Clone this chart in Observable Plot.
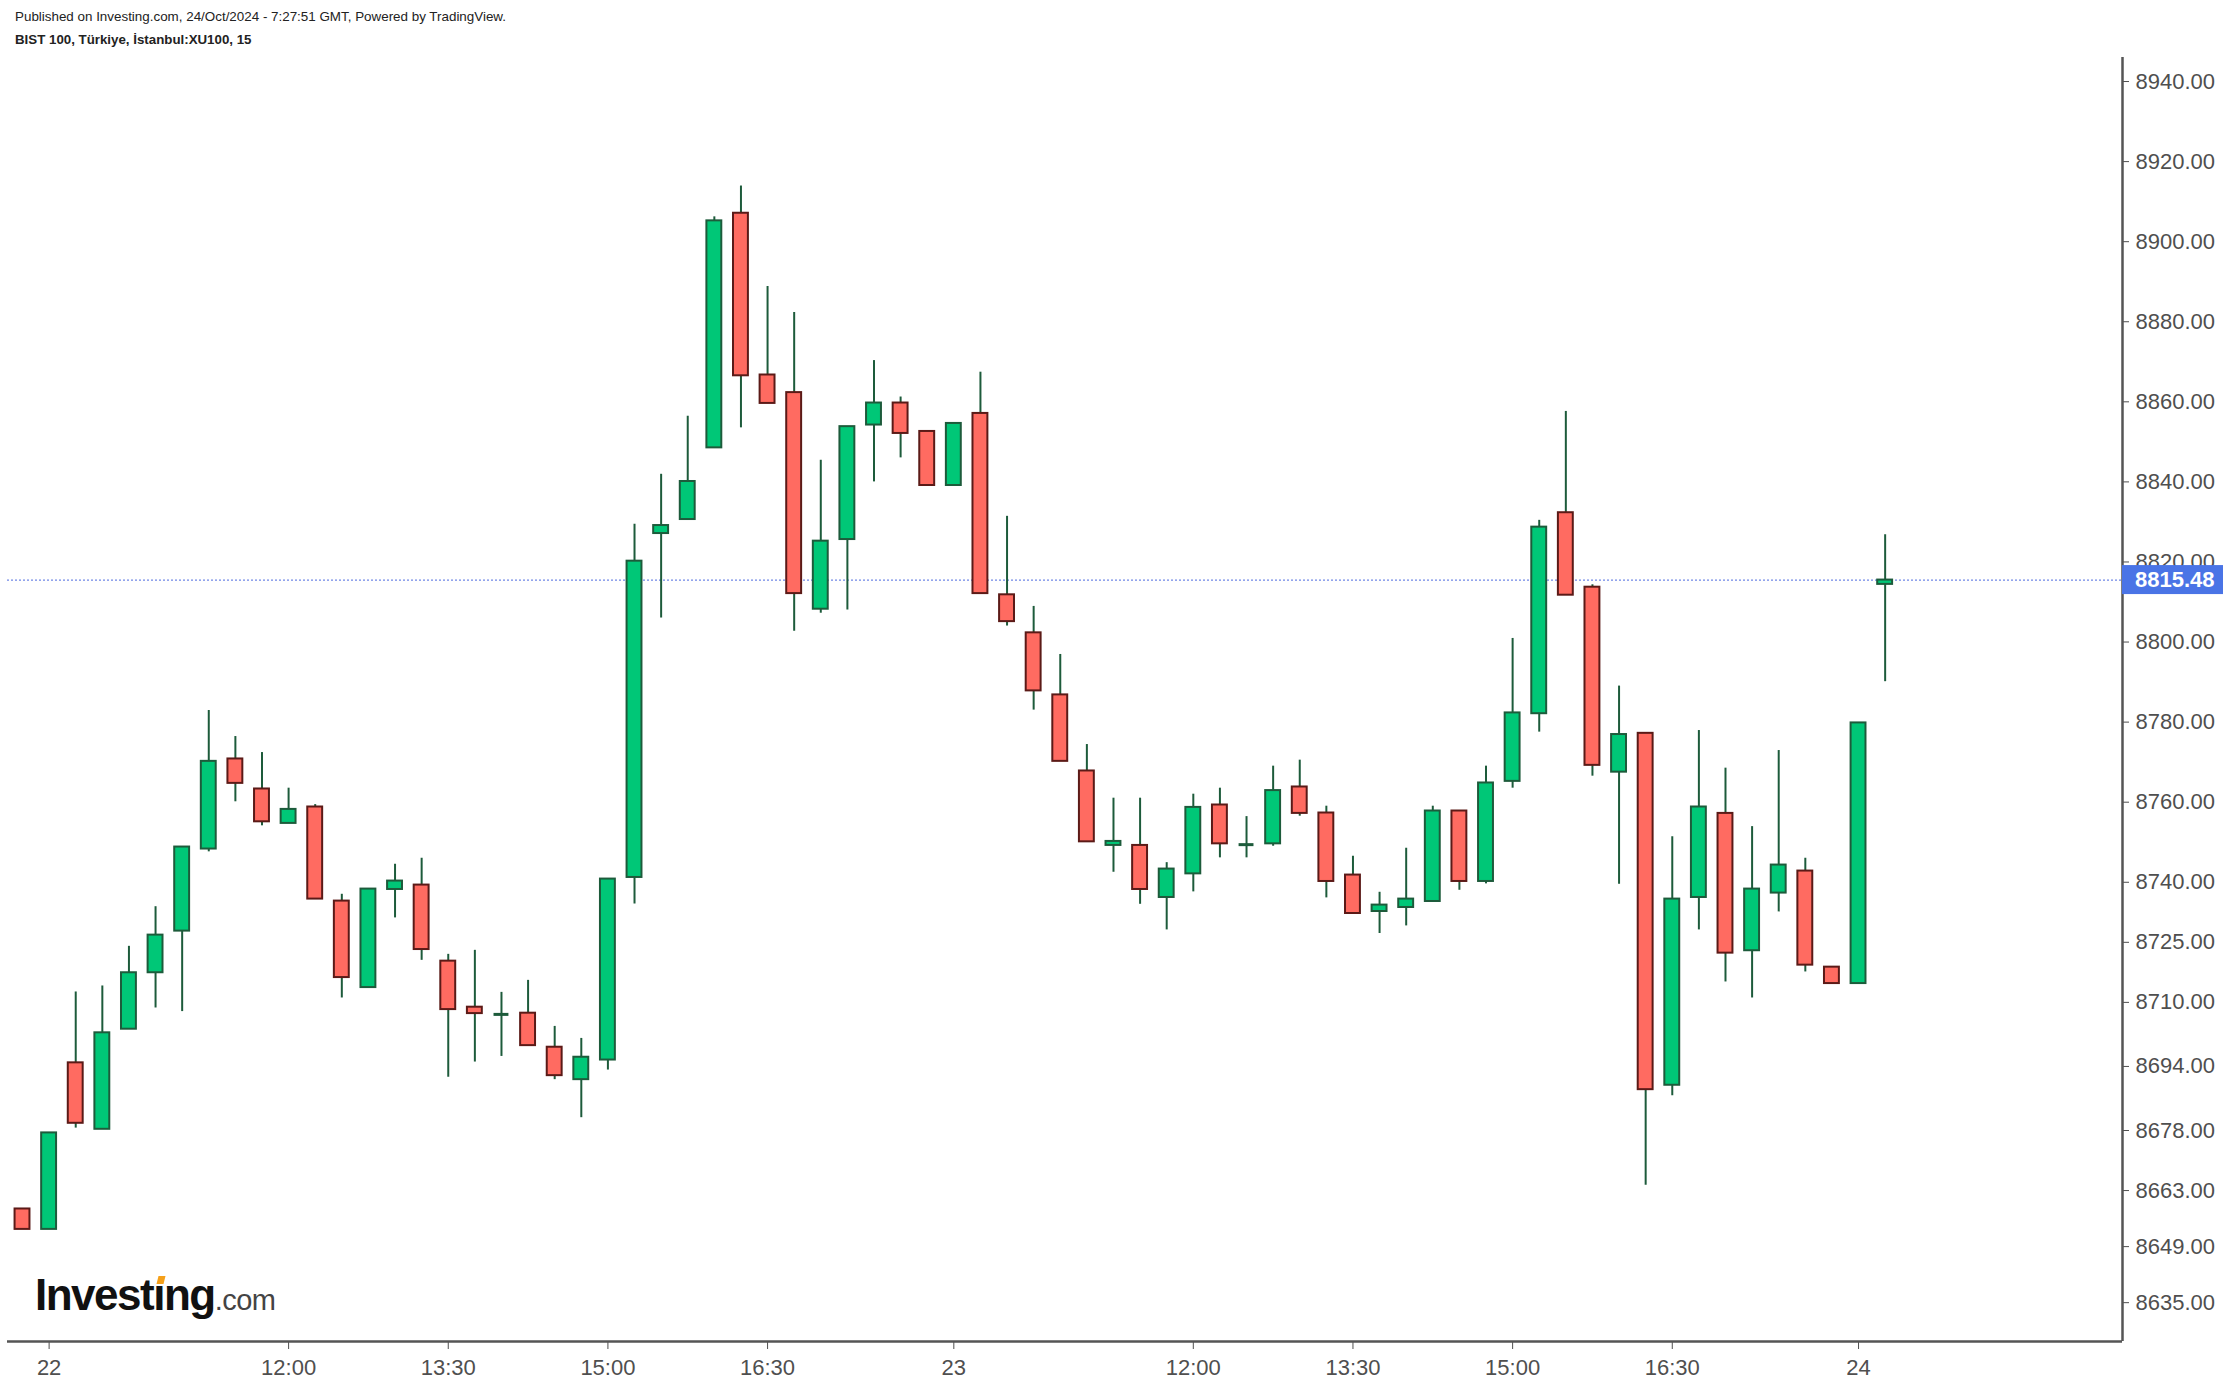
<!DOCTYPE html>
<html>
<head>
<meta charset="utf-8">
<script src="https://cdn.jsdelivr.net/npm/d3@7"></script>
<script src="https://cdn.jsdelivr.net/npm/@observablehq/plot@0.6"></script>
<style>
  html, body { margin: 0; padding: 0; background: #fff; }
  #wrap { position: relative; width: 2230px; height: 1386px; overflow: hidden; font-family: "Liberation Sans", Arial, sans-serif; }
  #pub { position: absolute; left: 15px; top: 9px; font-size: 13.4px; color: #222; white-space: nowrap; }
  #sym { position: absolute; left: 15px; top: 32px; font-size: 13.3px; font-weight: bold; color: #222; white-space: nowrap; }
  #chart { position: absolute; left: 0; top: 0; }
</style>
</head>
<body>
<div id="wrap">
  <div id="chart"></div>
  <div id="pub">Published on Investing.com, 24/Oct/2024 - 7:27:51 GMT, Powered by TradingView.</div>
  <div id="sym">BIST 100, Türkiye, İstanbul:XU100, 15</div>
</div>
<script>
// ---- data (15-minute candles, BIST 100) ----
const opens  = [8658.4,8653.3,8694.9,8678.3,8703.3,8717.4,8727.8,8748.3,8770.8,8763.3,8754.7,8758.8,8735.3,8713.7,8738.2,8739.3,8720.3,8708.8,8707.0,8707.3,8698.8,8690.7,8695.6,8741.2,8827.1,8830.6,8848.5,8907.1,8866.7,8862.3,8808.2,8825.6,8854.2,8859.7,8852.6,8839.1,8857.1,8811.8,8802.3,8786.8,8767.8,8749.2,8749.2,8736.2,8742.1,8759.3,8749.4,8749.6,8763.8,8757.3,8741.8,8732.7,8733.7,8735.2,8757.8,8740.2,8765.2,8782.1,8832.3,8813.7,8767.5,8777.2,8689.3,8736.2,8757.2,8722.9,8737.3,8742.8,8718.8,8714.7,8814.4];
const highs  = [8658.4,8677.4,8712.6,8714.1,8724.0,8733.9,8748.8,8782.9,8776.4,8772.4,8763.5,8759.4,8737.0,8738.3,8744.5,8746.0,8722.0,8723.0,8712.5,8715.5,8704.0,8701.0,8740.8,8829.4,8841.9,8856.4,8906.2,8913.9,8888.8,8882.3,8845.4,8853.8,8870.3,8861.2,8852.6,8854.6,8867.4,8831.4,8808.9,8796.9,8774.4,8761.0,8761.0,8744.9,8762.0,8763.5,8756.4,8769.0,8770.5,8759.0,8746.5,8737.5,8748.5,8759.0,8757.8,8769.0,8800.9,8830.4,8857.6,8814.3,8789.0,8777.2,8751.4,8777.9,8768.5,8753.9,8772.9,8746.0,8718.8,8779.8,8826.8];
const lows   = [8653.3,8653.3,8678.6,8678.3,8703.3,8708.6,8707.7,8747.6,8760.1,8754.1,8754.7,8735.8,8711.1,8713.7,8731.1,8720.5,8691.3,8695.1,8696.5,8699.2,8690.7,8681.2,8693.1,8734.6,8806.0,8830.6,8848.5,8853.5,8859.6,8802.7,8807.2,8808.0,8840.0,8846.0,8839.1,8839.1,8812.1,8804.0,8783.0,8770.2,8750.1,8742.5,8734.5,8728.1,8737.6,8746.1,8746.1,8749.0,8756.5,8736.1,8732.2,8727.2,8729.1,8735.2,8738.0,8739.6,8763.5,8777.5,8811.7,8766.5,8739.5,8664.3,8686.7,8728.1,8715.1,8711.1,8732.6,8717.6,8714.7,8714.7,8790.1];
const closes = [8653.3,8677.4,8679.8,8702.4,8717.4,8726.8,8748.8,8770.2,8764.7,8755.1,8758.2,8735.8,8716.2,8738.3,8740.3,8723.2,8708.2,8707.2,8707.0,8699.2,8691.7,8696.3,8740.8,8820.2,8829.1,8840.1,8905.2,8866.5,8859.6,8812.1,8825.2,8853.8,8859.7,8852.1,8839.1,8854.6,8812.1,8805.1,8787.8,8770.2,8750.1,8750.2,8738.2,8743.3,8758.7,8749.6,8749.4,8762.9,8757.2,8740.2,8732.2,8734.3,8735.8,8757.8,8740.2,8764.8,8782.3,8828.7,8811.7,8769.2,8776.9,8688.2,8735.8,8758.8,8722.3,8738.3,8744.3,8719.3,8714.7,8779.8,8815.48];

const yTickValues = [8940,8920,8900,8880,8860,8840,8820,8800,8780,8760,8740,8725,8710,8694,8678,8663,8649,8635];
const xTickIndex  = [1,10,16,22,28,35,44,50,56,62,69];
const xTickLabels = ["22","12:00","13:30","15:00","16:30","23","12:00","13:30","15:00","16:30","24"];
const lastPrice = 8815.48;

// ---- styles ----
const upFill = "#00c777", upStroke = "#1d5b3b";
const downFill = "#ff6b61", downStroke = "#5b1a17";
const wickColor = "#1d5b3b";
const axisColor = "#555555";

const candles = opens.map((o, i) => ({i, open: o, high: highs[i], low: lows[i], close: closes[i]}));
const ups = candles.filter(d => d.close > d.open);
const downs = candles.filter(d => d.close < d.open);
const dojis = candles.filter(d => d.close === d.open);

const xDomain = [-0.564, 78.92];
const yDomain = [8625.3, 8946.0];
const half = 0.28;

const chart = Plot.plot({
  width: 2230,
  height: 1386,
  marginLeft: 7,
  marginRight: 108,
  marginTop: 57,
  marginBottom: 45,
  style: {fontFamily: "'Liberation Sans', Arial, sans-serif", fontSize: "22px", color: "#4f4f4f", background: "#fff"},
  x: {type: "linear", domain: xDomain},
  y: {type: "linear", domain: yDomain},
  marks: [
    Plot.ruleY([lastPrice], {stroke: "#7088e6", strokeWidth: 1.2, strokeDasharray: "2,2"}),
    Plot.ruleX(candles, {x: "i", y1: "low", y2: "high", stroke: wickColor, strokeWidth: 2}),
    Plot.rect(ups, {x1: d => d.i - half, x2: d => d.i + half, y1: "open", y2: "close", fill: upFill, stroke: upStroke, strokeWidth: 2}),
    Plot.rect(downs, {x1: d => d.i - half, x2: d => d.i + half, y1: "close", y2: "open", fill: downFill, stroke: downStroke, strokeWidth: 2}),
    Plot.ruleY(dojis, {y: "close", x1: d => d.i - half, x2: d => d.i + half, stroke: upStroke, strokeWidth: 3}),
    Plot.axisY({anchor: "right", ticks: yTickValues, tickFormat: d => d.toFixed(2), tickSize: 6, tickPadding: 7, label: null}),
    Plot.axisX({ticks: xTickIndex, tickFormat: d => xTickLabels[xTickIndex.indexOf(d)], tickSize: 8, tickPadding: 10, label: null}),
    Plot.ruleY([yDomain[0]], {stroke: axisColor, strokeWidth: 2.5}),
    Plot.ruleX([xDomain[1]], {stroke: axisColor, strokeWidth: 2.5})
  ]
});
document.getElementById("chart").appendChild(chart);

// ---- last price label on the axis ----
const svg = d3.select(chart);
const yS = chart.scale("y"), xS = chart.scale("x");
const py = yS.apply(lastPrice), px = xS.apply(xDomain[1]);
svg.append("rect").attr("x", px).attr("y", py - 14.5).attr("width", 101).attr("height", 29).attr("fill", "#4a74e6");
svg.append("text").attr("x", px + 13).attr("y", py).attr("dy", "0.36em").attr("text-anchor", "start")
  .attr("fill", "#fff").style("font-size", "22px").style("font-weight", "bold")
  .style("font-family", "'Liberation Sans', Arial, sans-serif")
  .text(lastPrice.toFixed(2));

// ---- Investing.com logo ----
const logo = svg.append("text").attr("x", 35).attr("y", 1310).attr("text-anchor", "start")
  .style("font-family", "'Liberation Sans', Arial, sans-serif");
logo.append("tspan").style("font-size", "44px").style("font-weight", "bold").style("letter-spacing", "-1.5px")
  .attr("fill", "#111").text("Investıng");
logo.append("tspan").style("font-size", "29px").attr("fill", "#444").style("letter-spacing", "-0.5px").text(".com");
const tnode = logo.node();
try {
  const ext = tnode.getExtentOfChar(6);
  const cx = ext.x + ext.width / 2 + 1;
  svg.append("polygon")
    .attr("points", `${cx-3},${1284} ${cx+4},${1284} ${cx+6},${1276} ${cx-1},${1276}`)
    .attr("fill", "#f5a01a");
} catch (e) {}
</script>
</body>
</html>
